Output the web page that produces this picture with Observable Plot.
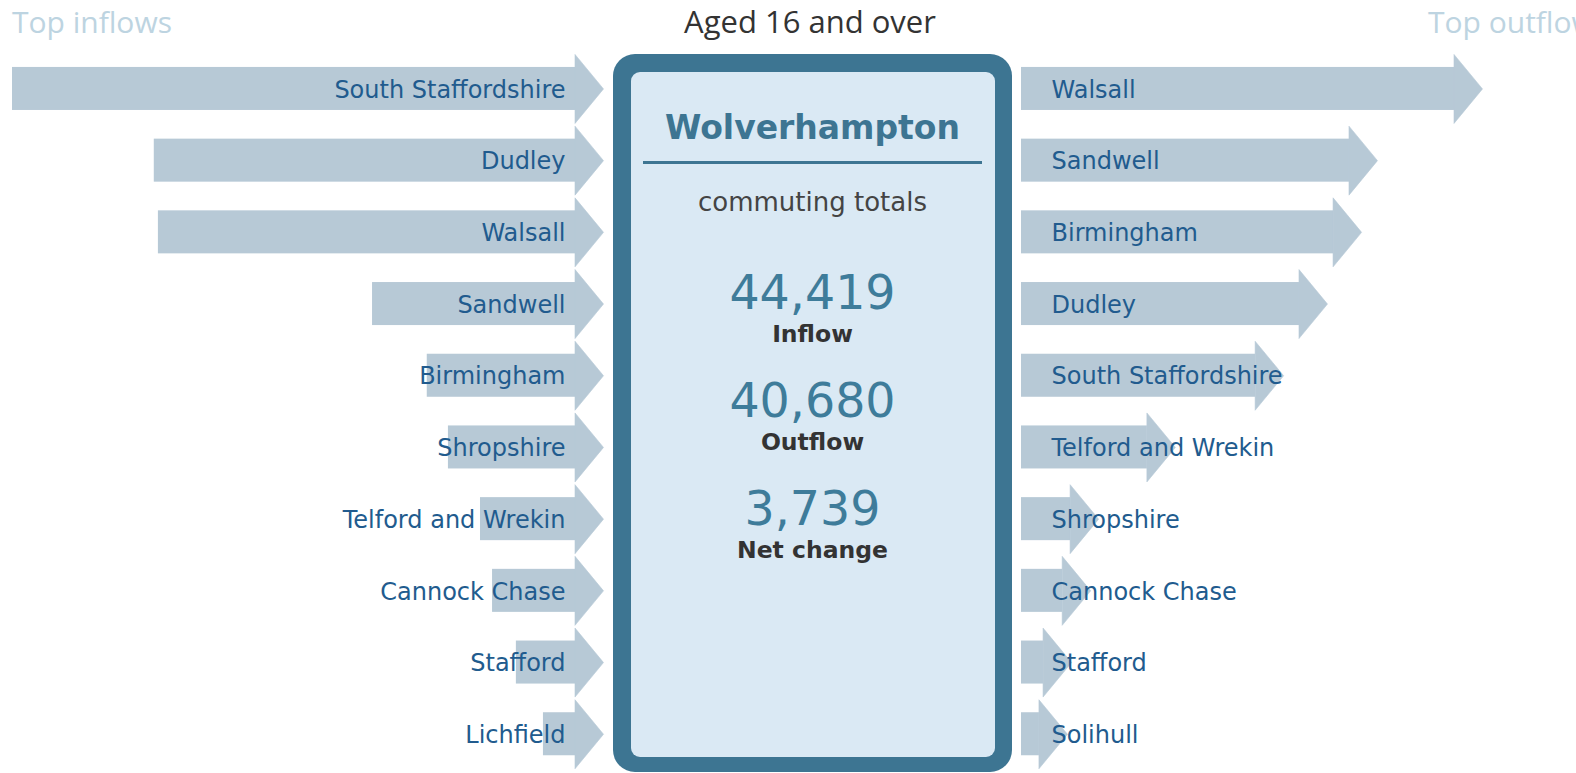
<!DOCTYPE html>
<html>
<head>
<meta charset="utf-8">
<script src="https://cdn.jsdelivr.net/npm/d3@7"></script>
<script src="https://cdn.jsdelivr.net/npm/@observablehq/plot@0.6"></script>
<style>
  html, body { margin: 0; padding: 0; background: #fff; }
  #wrap { position: relative; width: 1576px; height: 773px; overflow: hidden; background: #fff; }
  #wrap > * { position: absolute; top: 0; }
</style>
</head>
<body>
<div id="wrap"></div>
<script>
// ---- data ----
const inNames = ["South Staffordshire", "Dudley", "Walsall", "Sandwell", "Birmingham", "Shropshire", "Telford and Wrekin", "Cannock Chase", "Stafford", "Lichfield"];
const inValues = [9570, 7160, 7090, 3450, 2520, 2160, 1615, 1410, 1005, 545];
const outNames = ["Walsall", "Sandwell", "Birmingham", "Dudley", "South Staffordshire", "Telford and Wrekin", "Shropshire", "Cannock Chase", "Stafford", "Solihull"];
const outValues = [7360, 5575, 5305, 4725, 3980, 2140, 835, 700, 375, 305];
const totalLabels = ["Inflow", "Outflow", "Net change"];
const totalValues = [44419, 40680, 3739];
const placeName = "Wolverhampton";
const subtitle = "commuting totals";
const title = "Aged 16 and over";
const leftHeader = "Top inflows";
const rightHeader = "Top outflows";

const inflows = inNames.map((name, i) => ({name, value: inValues[i]}));
const outflows = outNames.map((name, i) => ({name, value: outValues[i]}));

// ---- style ----
const barFill = "#b7c9d6";
const labelFill = "#215b8e";
const font = "DejaVu Sans";
const maxV = d3.max(inValues.concat(outValues));

// arrow head as a custom symbol (base at the point, tip pointing right)
const head = {
  draw(context) {
    context.moveTo(-0.5, -34.5);
    context.lineTo(28, 0);
    context.lineTo(-0.5, 34.5);
    context.closePath();
  }
};

const yOpts = (names) => ({type: "band", domain: names, range: [52.6, 769.6], paddingInner: 0.40, paddingOuter: 0.20, round: false, axis: null});
const plotStyle = {fontFamily: font, fontSize: "24px", background: "transparent", overflow: "visible", maxWidth: "none"};

const left = Plot.plot({
  width: 613, height: 773, margin: 0,
  style: plotStyle,
  x: {domain: [0, maxV], range: [575, 12], axis: null},
  y: yOpts(inNames),
  marks: [
    Plot.barX(inflows, {x1: 0, x2: "value", y: "name", fill: barFill}),
    Plot.dot(inflows, {x: 0, y: "name", symbol: head, r: 1, fill: barFill, stroke: barFill, strokeWidth: 0.6}),
    Plot.text(inflows, {x: 0, y: "name", text: "name", textAnchor: "end", dx: -10, dy: 1, fill: labelFill, fontSize: 24})
  ]
});
left.style.left = "0px";

const right = Plot.plot({
  width: 580, height: 773, margin: 0,
  style: plotStyle,
  x: {domain: [0, maxV], range: [9, 9 + 563], axis: null},
  y: yOpts(outNames),
  marks: [
    Plot.barX(outflows, {x1: 0, x2: "value", y: "name", fill: barFill}),
    Plot.dot(outflows, {x: "value", y: "name", symbol: head, r: 1, fill: barFill, stroke: barFill, strokeWidth: 0.6}),
    Plot.text(outflows, {x: 0, y: "name", text: "name", textAnchor: "start", dx: 30, dy: 1, fill: labelFill, fontSize: 24})
  ]
});
right.style.left = "1012px";

const wrap = document.getElementById("wrap");

// ---- center panel & headers ----
const fmt = d3.format(",");
const svg = d3.create("svg").attr("width", 1576).attr("height", 773).style("left", "0px");
const cx = 812.5;
svg.append("rect").attr("x", 613).attr("y", 54).attr("width", 399).attr("height", 718).attr("rx", 22).attr("fill", "#3d7592");
svg.append("rect").attr("x", 631).attr("y", 72).attr("width", 364).attr("height", 685).attr("rx", 9).attr("fill", "#dae9f4");
svg.append("text").attr("x", 12).attr("y", 33).attr("font-family", "Open Sans").attr("font-size", 30).attr("fill", "#bdd4e1").text(leftHeader);
svg.append("text").attr("x", 1428).attr("y", 33).attr("font-family", "Open Sans").attr("font-size", 30).attr("fill", "#bdd4e1").text(rightHeader);
svg.append("text").attr("x", 810).attr("y", 33).attr("text-anchor", "middle").attr("font-family", "Open Sans").attr("font-size", 31).attr("fill", "#333").text(title);
svg.append("text").attr("x", cx).attr("y", 139).attr("text-anchor", "middle").attr("font-family", font).attr("font-weight", "bold").attr("font-size", 33).attr("fill", "#3d7592").text(placeName);
svg.append("line").attr("x1", 643).attr("x2", 982).attr("y1", 162.5).attr("y2", 162.5).attr("stroke", "#3d7592").attr("stroke-width", 3);
svg.append("text").attr("x", cx).attr("y", 211).attr("text-anchor", "middle").attr("font-family", font).attr("font-size", 26).attr("fill", "#444").text(subtitle);
const numBase = [309, 417, 525];
const labBase = [342, 450, 558];
totalValues.forEach((v, i) => {
  svg.append("text").attr("x", cx).attr("y", numBase[i]).attr("text-anchor", "middle").attr("font-family", font).attr("font-size", 47.5).attr("fill", "#3e7c9a").text(fmt(v));
  svg.append("text").attr("x", cx).attr("y", labBase[i]).attr("text-anchor", "middle").attr("font-family", font).attr("font-weight", "bold").attr("font-size", 23.5).attr("fill", "#333").text(totalLabels[i]);
});

wrap.appendChild(svg.node());
wrap.appendChild(left);
wrap.appendChild(right);
</script>
</body>
</html>
